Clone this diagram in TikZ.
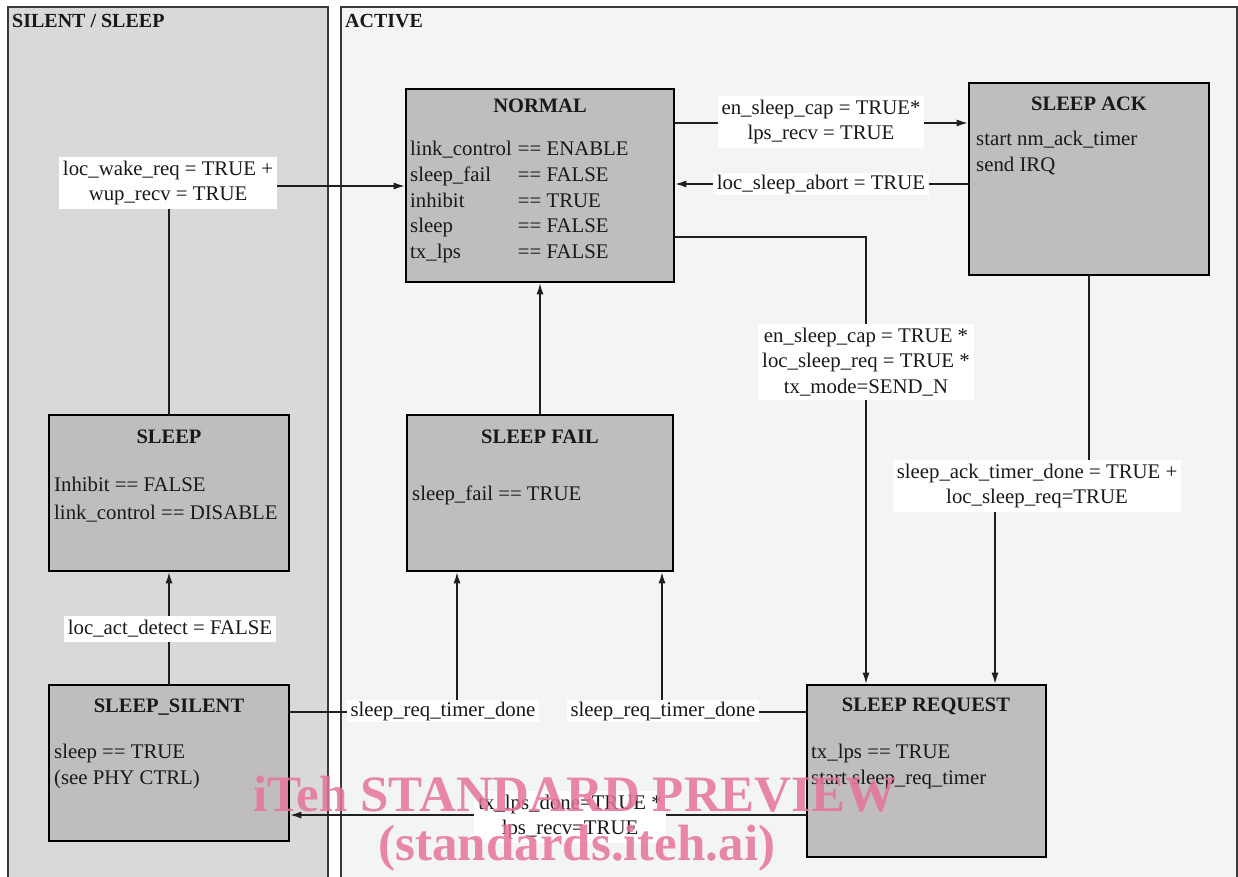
\documentclass[tikz,border=0pt]{standalone}
\usepackage{fontspec}
\setmainfont{Liberation Serif}
\usetikzlibrary{arrows.meta,calc}
\definecolor{leftbg}{HTML}{D9D9D9}
\definecolor{rightbg}{HTML}{F3F4F6}
\definecolor{boxgray}{HTML}{BFBDBE}
\definecolor{panelline}{HTML}{3A3A3A}
\definecolor{wmpink}{HTML}{E5739A}
\begin{document}
\begin{tikzpicture}[x=1pt,y=-1pt,
  every node/.style={font=\fontsize{20.8}{25.6}\selectfont, text=black!90},
  state/.style={draw=black, line width=2.8pt, fill=boxgray, anchor=north west, inner sep=0pt, outer sep=0pt},
  ttl/.style={font=\fontsize{20.5}{24}\selectfont\bfseries, anchor=base},
  body/.style={anchor=base west, inner sep=0pt},
  lbl/.style={fill=white, align=center, inner xsep=4pt, inner ysep=4pt},
  ptitle/.style={font=\fontsize{20}{24}\selectfont\bfseries, anchor=base west, inner sep=0pt},
  conn/.style={line width=1.1pt, draw=black!88},
  arr/.style={conn, -{Latex[length=11pt,width=7pt]}, shorten >=1.4pt},
  wm/.style={font=\fontsize{51}{60}\selectfont\bfseries, text=wmpink, text opacity=0.85, anchor=base, inner sep=0pt}
]
\useasboundingbox (0,0) rectangle (1238,877);
\clip (0,0) rectangle (1238,877);
\fill[white] (0,0) rectangle (1238,877);
% panels
\fill[leftbg] (8,7) rectangle (328,880);
\draw[panelline, line width=1.2pt] (8,880) -- (8,7) -- (328,7) -- (328,880);
\fill[rightbg] (341,7) rectangle (1237,880);
\draw[panelline, line width=1.2pt] (341,880) -- (341,7) -- (1237,7) -- (1237,880);
\node[ptitle] (silenttitle) at (12,28) {SILENT / SLEEP};
\node[ptitle] (activetitle) at (345,28) {ACTIVE};

% state boxes
\node[state, minimum width=268pt, minimum height=193pt] (normal) at (406,89) {};
\node[state, minimum width=240pt, minimum height=192pt] (sleepack) at (969,83) {};
\node[state, minimum width=240pt, minimum height=156pt] (sleep) at (49,415) {};
\node[state, minimum width=266pt, minimum height=156pt] (sleepfail) at (407,415) {};
\node[state, minimum width=240pt, minimum height=156pt] (sleepsilent) at (49,685) {};
\node[state, minimum width=239pt, minimum height=172pt] (sleepreq) at (807,685) {};

% titles
\node[ttl] (normalt) at (540,113) {NORMAL};
\node[ttl] (sleepackt) at (1089,111) {SLEEP ACK};
\node[ttl] (sleept) at (169,443) {SLEEP};
\node[ttl] (sleepfailt) at (540,443) {SLEEP FAIL};
\node[ttl] (sleepsilentt) at (169,712) {SLEEP\_SILENT};
\node[ttl] (sleepreqt) at (926,711) {SLEEP REQUEST};

% bodies
\node[body] (normalb) at (410,156) {\begin{tabular}[t]{@{}l@{\hspace{6pt}}l@{}}
link\_control & == ENABLE\\
sleep\_fail & == FALSE\\
inhibit & == TRUE\\
sleep & == FALSE\\
tx\_lps & == FALSE
\end{tabular}};
\node[body] (sleepackb) at (976,146) {\begin{tabular}[t]{@{}l@{}}
start nm\_ack\_timer\\
send IRQ
\end{tabular}};
\node[body] (sleepb) at (54,491) {\begin{tabular}[t]{@{}l@{}}
Inhibit == FALSE\\[2.5pt]
link\_control == DISABLE
\end{tabular}};
\node[body] (sleepfailb) at (412,500) {sleep\_fail == TRUE};
\node[body] (sleepsilentb) at (54,758) {\begin{tabular}[t]{@{}l@{}}
sleep == TRUE\\[1pt]
(see PHY CTRL)
\end{tabular}};
\node[body] (sleepreqb) at (811,758) {\begin{tabular}[t]{@{}l@{}}
tx\_lps == TRUE\\[1pt]
start sleep\_req\_timer
\end{tabular}};

% connectors
\draw[arr] (sleep.north) -- (169,186) -- (normal.west |- 0,186);
\node[lbl] (wakelbl) at (168,183) {loc\_wake\_req = TRUE +\\wup\_recv = TRUE};

\draw[arr] (normal.east |- 0,123) -- (sleepack.west |- 0,123);
\node[lbl] (caplbl) at (821,122) {en\_sleep\_cap = TRUE*\\lps\_recv = TRUE};

\draw[arr] (sleepack.west |- 0,184) -- (normal.east |- 0,184);
\node[lbl, inner ysep=2pt] (abortlbl) at (821,184) {loc\_sleep\_abort = TRUE};

\draw[arr] (normal.east |- 0,237) -- (866,237) -- (866,0 |- sleepreq.north);
\node[lbl] (reqlbl) at (866,362) {en\_sleep\_cap = TRUE *\\loc\_sleep\_req = TRUE *\\tx\_mode=SEND\_N};

\draw[arr] (sleepack.south) -- (1089,486) -- (995,486) -- (995,0 |- sleepreq.north);
\node[lbl] (acklbl) at (1037,486) {sleep\_ack\_timer\_done = TRUE +\\loc\_sleep\_req=TRUE};

\draw[arr] (sleepfail.north) -- (normal.south);

\draw[arr] (sleepsilent.north) -- (sleep.south);
\node[lbl] (actlbl) at (170,629) {loc\_act\_detect = FALSE};

\draw[arr] (sleepsilent.east |- 0,712) -- (457,712) -- (457,0 |- sleepfail.south);
\node[lbl, inner ysep=2pt] (timerlbla) at (443,711) {sleep\_req\_timer\_done};

\draw[arr] (sleepreq.west |- 0,712) -- (662,712) -- (662,0 |- sleepfail.south);
\node[lbl, inner ysep=2pt] (timerlblb) at (663,711) {sleep\_req\_timer\_done};

\draw[arr] (sleepreq.west |- 0,815) -- (sleepsilent.east |- 0,815);
\node[lbl] (donelbl) at (570,817) {tx\_lps\_done=TRUE *\\lps\_recv=TRUE};

% watermark
\node[wm] (wm1) at (575,811) {iTeh STANDARD PREVIEW};
\node[wm] (wm2) at (577,860) {(standards.iteh.ai)};
\end{tikzpicture}
\end{document}
